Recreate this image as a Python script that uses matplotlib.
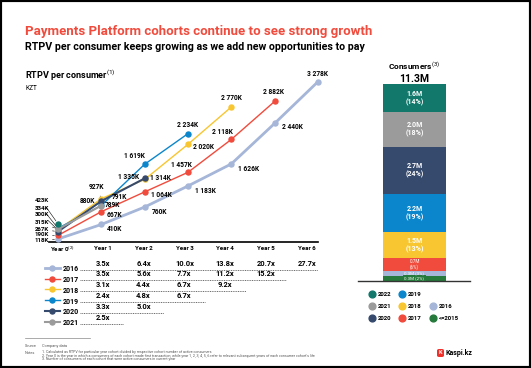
import numpy as np
import matplotlib
matplotlib.use('Agg')
import matplotlib.pyplot as plt
from matplotlib.lines import Line2D
from matplotlib.patches import Rectangle, FancyBboxPatch

plt.rcParams['font.family'] = ['Roboto', 'DejaVu Sans']
plt.rcParams['mathtext.fontset'] = 'custom'
plt.rcParams['mathtext.rm'] = 'Roboto'
plt.rcParams['mathtext.bf'] = 'Roboto:bold'
plt.rcParams['mathtext.it'] = 'Roboto:italic'

# ---- data ----
year_labels = ['Year 0$^{(2)}$', 'Year 1', 'Year 2', 'Year 3', 'Year 4', 'Year 5', 'Year 6']

rtpv_2016 = [118, 410, 760, 1183, 1626, 2440, 3278]
rtpv_2017 = [190, 667, 1064, 1457, 2118, 2882]
rtpv_2018 = [300, 927, 1314, 2020, 2770]
rtpv_2019 = [334, 791, 1619, 2234]
rtpv_2020 = [267, 880, 1335]
rtpv_2021 = [315, 789]
rtpv_2022 = [423]

mult_2016 = ['3.5x', '6.4x', '10.0x', '13.8x', '20.7x', '27.7x']
mult_2017 = ['3.5x', '5.6x', '7.7x', '11.2x', '15.2x']
mult_2018 = ['3.1x', '4.4x', '6.7x', '9.2x']
mult_2019 = ['2.4x', '4.8x', '6.7x']
mult_2020 = ['3.3x', '5.0x']
mult_2021 = ['2.5x']

bar_cohorts = ['<=2015', '2016', '2017', '2018', '2019', '2020', '2021', '2022']
bar_values = [0.3, 0.3, 0.7, 1.5, 2.2, 2.7, 2.0, 1.6]
bar_pcts = [2, 3, 6, 13, 19, 24, 18, 14]
total_consumers = '11.3M'

colors = {'2016': '#a5b6d8', '2017': '#f04b3c', '2018': '#f8c630', '2019': '#0b86cc',
          '2020': '#364a6d', '2021': '#9b9b9b', '2022': '#11786b', '<=2015': '#267a3c'}

W, H = 531, 368
fig = plt.figure(figsize=(W / 100, H / 100), dpi=100)


def box(l, t, r, b):
    return [l / W, 1 - b / H, (r - l) / W, (b - t) / H]


def fmt(v):
    return f'{v:,}'.replace(',', ' ') + 'K'


# ---- titles ----
fig.text(25 / W, 1 - 32 / H, 'Payments Platform cohorts continue to see strong growth',
         color='#f04b3c', fontsize=9.5, fontweight='bold', va='center')
fig.text(25 / W, 1 - 47 / H, 'RTPV per consumer keeps growing as we add new opportunities to pay',
         fontsize=7.7, fontweight='bold', va='center')
fig.text(25 / W, 1 - 75 / H, 'RTPV per consumer$^{(1)}$', fontsize=6.5, fontweight='bold', va='center')
fig.text(25 / W, 1 - 89 / H, 'KZT', fontsize=4.8, va='center')

# ---- line chart ----
ax = fig.add_axes(box(49.3, 70.6, 318, 242))
ax.set_xlim(-0.2, 6)
ax.set_ylim(58, 3500)
for s in ['top', 'right', 'left']:
    ax.spines[s].set_visible(False)
ax.spines['bottom'].set_linewidth(1.2)
ax.set_xticks([])
ax.set_yticks([])
ax.patch.set_alpha(0)

series = [('2016', rtpv_2016, 2.0), ('2017', rtpv_2017, 1.0), ('2018', rtpv_2018, 1.0),
          ('2019', rtpv_2019, 1.0), ('2020', rtpv_2020, 1.5), ('2021', rtpv_2021, 1.5),
          ('2022', rtpv_2022, 1.0)]
for z, (name, vals, lw) in enumerate(series):
    ax.plot(range(len(vals)), vals, color=colors[name], lw=lw, marker='o', ms=3.6,
            clip_on=False, zorder=3 + z)

# label offsets in pixels: (dx, dy down, ha)
offs = {
    ('2016', 1): (6, 5, 'left'), ('2016', 2): (7, 5, 'left'), ('2016', 3): (7, 5, 'left'),
    ('2016', 4): (7, 5, 'left'), ('2016', 5): (7, 4, 'left'), ('2016', 6): (0, -8, 'center'),
    ('2017', 1): (5, 3, 'left'), ('2017', 2): (6, 3, 'left'), ('2017', 3): (-7, -7, 'center'),
    ('2017', 4): (-9, -7, 'center'), ('2017', 5): (-1, -9, 'center'),
    ('2018', 2): (5, -1, 'left'), ('2018', 3): (5, 3, 'left'), ('2018', 4): (0, -9, 'center'),
    ('2019', 1): (11, -8, 'left'), ('2019', 2): (-10, -8, 'center'), ('2019', 3): (0, -9, 'center'),
    ('2020', 1): (-6, 0, 'right'), ('2020', 2): (-6, -1, 'right'),
    ('2021', 1): (4, -1, 'left'),
}
for name, vals, lw in series:
    for i, v in enumerate(vals):
        if (name, i) in offs:
            dx, dy, ha = offs[(name, i)]
            ax.annotate(fmt(v), (i, v), xytext=(dx, -dy), textcoords='offset pixels',
                        ha=ha, va='center', fontsize=4.8, fontweight='bold', zorder=20)

# 927K with a leader
ax.annotate(fmt(rtpv_2018[1]), (1, rtpv_2018[1]), xytext=(-5, 12), textcoords='offset pixels',
            ha='center', va='center', fontsize=4.8, fontweight='bold', zorder=20,
            arrowprops=dict(arrowstyle='-', lw=0.5, color='k', shrinkA=2, shrinkB=2))

# year 0 labels stacked at the left with leaders
y0_label_px = {'2022': 201, '2019': 208, '2018': 214.5, '2021': 223, '2020': 229.5,
               '2017': 235, '2016': 240.5}
for name, vals, lw in series:
    tr = ax.transData.transform((0, vals[0]))
    py = H - tr[1]
    ax.annotate(fmt(vals[0]), (0, vals[0]), xytext=(-9, py - y0_label_px[name]), textcoords='offset pixels',
                ha='right', va='center', fontsize=4.4, fontweight='bold', zorder=20,
                arrowprops=dict(arrowstyle='-', lw=0.4, color='k', shrinkA=0.5, shrinkB=2.5),
                annotation_clip=False)

# ---- table below the chart ----
tx = fig.add_axes(box(22, 244, 330, 335))
tx.set_xlim((22 - 62) / 40.8, (330 - 62) / 40.8)
tx.set_ylim((335 - 269) / 10.85, (244 - 269) / 10.85)
tx.axis('off')

for i, lab in enumerate(year_labels):
    tx.text(i, (249 - 269) / 10.85, lab, ha='center', va='center', fontsize=4.4, fontweight='bold')

rows = [('2016', mult_2016, 2.0), ('2017', mult_2017, 1.0), ('2018', mult_2018, 1.0),
        ('2019', mult_2019, 1.0), ('2020', mult_2020, 1.5), ('2021', mult_2021, 1.5)]
for r, (name, mults, lw) in enumerate(rows):
    tx.plot([-0.42, -0.05], [r - 0.12, r - 0.12], color=colors[name], lw=lw)
    tx.plot([-0.235], [r - 0.12], 'o', color=colors[name], ms=3.6)
    tx.text(0.02, r, name, ha='left', va='center', fontsize=5, fontweight='bold')
    end = min(len(mults) + 0.5, 6.27)
    tx.plot([0.44, end], [r + 0.05, r + 0.05], color='#6b6b6b', lw=0.7, ls=(0, (1, 0.8)))
    for i, m in enumerate(mults):
        tx.text(i + 1, r - 0.5, m, ha='center', va='center', fontsize=5.4, fontweight='bold')

# ---- consumers stacked bar ----
fig.text(414 / W, 1 - 66 / H, 'Consumers$^{(3)}$', ha='center', va='center', fontsize=6, fontweight='bold')
fig.text(414 / W, 1 - 79 / H, total_consumers, ha='center', va='center', fontsize=7.5, fontweight='bold')

bx = fig.add_axes(box(358, 84, 470, 281))
bx.set_xlim(0, 1)
bx.set_ylim(0, sum(bar_values))
for s in ['top', 'right', 'left']:
    bx.spines[s].set_visible(False)
bx.spines['bottom'].set_color('#333333')
bx.spines['bottom'].set_linewidth(1.0)
bx.set_xticks([])
bx.set_yticks([])
bx.patch.set_alpha(0)

bottoms = np.concatenate([[0], np.cumsum(bar_values)[:-1]])
bx.bar(0.504, bar_values, bottom=bottoms, width=0.5625,
       color=[colors[c] for c in bar_cohorts], zorder=2)
for c, v, p, b0 in zip(bar_cohorts, bar_values, bar_pcts, bottoms):
    yc = b0 + v / 2
    if v >= 1:
        bx.text(0.504, yc, f'{v:.1f}M\n({p}%)', ha='center', va='center', color='white',
                fontsize=5, fontweight='bold', linespacing=1.1, zorder=3)
    elif v >= 0.5:
        bx.text(0.504, yc, f'{v:.1f}M\n({p}%)', ha='center', va='center', color='white',
                fontsize=3.3, linespacing=1.1, zorder=3)
    else:
        bb = dict(boxstyle='square,pad=0.25', fc=colors[c], ec='none') if c == '<=2015' else None
        bx.text(0.504, yc, f'{v:.1f}M ({p}%)', ha='center', va='center', color='white',
                fontsize=3.2, zorder=4, bbox=bb)

# legend for the bar
lx = fig.add_axes(box(360, 286, 470, 325))
lx.set_xlim(360, 470)
lx.set_ylim(325, 286)
lx.axis('off')
leg_order = ['2022', '2019', None, '2021', '2018', '2016', '2020', '2017', '<=2015']
col_x = [372, 402, 433]
row_y = [294, 306, 318]
for k, name in enumerate(leg_order):
    if name is None:
        continue
    cx, cy = col_x[k % 3], row_y[k // 3]
    lx.scatter([cx], [cy], s=24, color=colors[name], clip_on=False)
    lx.text(cx + 6, cy, name, ha='left', va='center', fontsize=4.3, fontweight='bold')

# ---- footnotes ----
fig.add_artist(Line2D([25 / W, 90 / W], [1 - 338 / H] * 2, color='#888888', lw=0.5))
fig.text(25 / W, 1 - 346 / H, 'Source', fontsize=2.8, color='#555555', va='center')
fig.text(42 / W, 1 - 346 / H, 'Company data', fontsize=2.8, color='#555555', va='center')
fig.text(25 / W, 1 - 352.5 / H, 'Notes', fontsize=2.8, color='#555555', va='center')
notes = ['1. Calculated as RTPV for particular year cohort divided by respective cohort number of active consumers',
         "2. Year 0 is the year in which a consumers of each cohort made first transaction, while year 1, 2, 3, 4, 5, 6 refer to relevant subsequent years of each consumer cohort's life",
         '3. Number of consumers of each cohort that were active consumers in current year']
for j, n in enumerate(notes):
    fig.text(42 / W, 1 - (352.5 + 3.3 * j) / H, n, fontsize=2.6, color='#555555', va='center')

# logo
fig.add_artist(FancyBboxPatch((437 / W, 1 - 357 / H), 7 / W, 8 / H, boxstyle='round,pad=0,rounding_size=0.004',
                              transform=fig.transFigure, fc='#f0302a', ec='none'))
fig.text(440.5 / W, 1 - 353 / H, 'K', color='white', fontsize=4, fontweight='bold', ha='center', va='center')
fig.text(446 / W, 1 - 353 / H, 'Kaspi.kz', fontsize=5, fontweight='bold', va='center')

# slide frame
fig.add_artist(Rectangle((0, 0), 1, 1, transform=fig.transFigure, fill=False, ec='black', lw=3))

fig.savefig('out.png', dpi=100)
